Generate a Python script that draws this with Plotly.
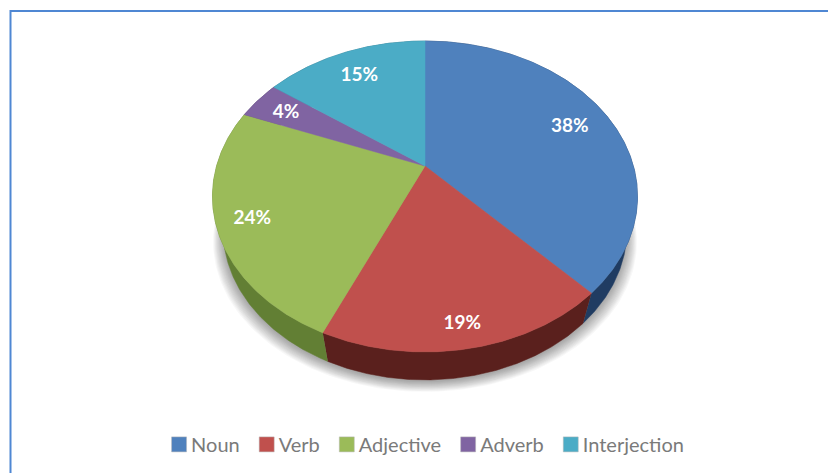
import numpy as np
import plotly.graph_objects as go

# ---- data ----
categories = ["Noun", "Verb", "Adjective", "Adverb", "Interjection"]
shares = [38.0, 18.6, 24.4, 4.0, 15.0]

# ---- styles ----
top_colors = ["#4f81bd", "#c0504d", "#9bbb59", "#8064a2", "#4bacc6"]
wall_colors = ["#203c62", "#5a201d", "#627f34", "#453560", "#28687a"]
label_radius = [0.79, 0.88, 0.84, 0.82, 0.79]
W, H = 828, 473

# Perspective view of a circular disc: top face and bottom face
K = 0.196
TOP = dict(cx=425.0, cy=166.0, a=208.4, b=149.5)
BOT = dict(cx=425.0, cy=200.6, a=198.0, b=144.2)


def project(deg, r, view):
    t = np.radians(deg)
    d = 1 + K * r * np.cos(t)
    return view["cx"] + view["a"] * r * np.sin(t) / d, view["cy"] - view["b"] * r * np.cos(t) / d


edges = 3.6 * np.concatenate([[0], np.cumsum(shares)])
fig = go.Figure()

# soft shadow under the disc
ts = np.linspace(0, 360, 241)
for i in range(12):
    x, y = project(ts, 1, BOT)
    fig.add_trace(go.Scatter(
        x=425 + (x - 425) * (1 + (11 - i) * 0.0045),
        y=y + 2 + (11 - i) * 0.9,
        mode="lines", fill="toself", line=dict(width=0),
        fillcolor="rgba(0,0,0,0.03)", hoverinfo="skip", showlegend=False))

# side wall
for name, c, a0, a1 in zip(categories, wall_colors, edges[:-1], edges[1:]):
    t = np.linspace(a0, a1, max(int(a1 - a0) * 2, 4))
    xt, yt = project(t, 1, TOP)
    xb, yb = project(t, 1, BOT)
    fig.add_trace(go.Scatter(
        x=np.concatenate([xt, xb[::-1]]), y=np.concatenate([yt, yb[::-1]]),
        mode="lines", fill="toself", line=dict(width=0.5, color=c), fillcolor=c,
        name=name, hoverinfo="skip", showlegend=False))

# top face
for name, c, v, a0, a1 in zip(categories, top_colors, shares, edges[:-1], edges[1:]):
    t = np.linspace(a0, a1, max(int(a1 - a0) * 2, 4))
    xt, yt = project(t, 1, TOP)
    fig.add_trace(go.Scatter(
        x=np.concatenate([[TOP["cx"]], xt, [TOP["cx"]]]),
        y=np.concatenate([[TOP["cy"]], yt, [TOP["cy"]]]),
        mode="lines", fill="toself", line=dict(width=0.5, color=c), fillcolor=c,
        name=name, text=f"{name}: {v:.0f}%", hoverinfo="text", showlegend=False))

# slice labels
mid = (edges[:-1] + edges[1:]) / 2
lx, ly = zip(*[project(m, r, TOP) for m, r in zip(mid, label_radius)])
fig.add_trace(go.Scatter(
    x=lx, y=np.array(ly) + 2.5, mode="text", text=[f"{v:.0f}%" for v in shares],
    textposition="middle center",
    textfont=dict(family="Lato", size=19, color="white", weight="bold"),
    hoverinfo="skip", showlegend=False))

# legend entries
for name, c in zip(categories, top_colors):
    fig.add_trace(go.Scatter(
        x=[None], y=[None], mode="markers", name=name,
        marker=dict(symbol="square", size=15, color=c, line=dict(width=0.5, color="#b8b8b8"))))

fig.update_layout(
    width=W, height=H, margin=dict(l=0, r=0, t=0, b=0),
    paper_bgcolor="white", plot_bgcolor="white",
    xaxis=dict(range=[0, W], visible=False, fixedrange=True),
    yaxis=dict(range=[H, 0], visible=False, fixedrange=True),
    legend=dict(orientation="h", x=0.517, xanchor="center", y=0.0605, yanchor="middle",
                font=dict(family="Lato", size=20, color="#7a7a7a"),
                itemsizing="trace", itemwidth=30, traceorder="normal",
                bgcolor="rgba(0,0,0,0)"),
    showlegend=True,
    shapes=[
        dict(type="line", xref="paper", yref="paper", x0=10.5 / W, x1=1, y0=1 - 11 / H, y1=1 - 11 / H,
             line=dict(color="#4f87d3", width=2)),
        dict(type="line", xref="paper", yref="paper", x0=10.5 / W, x1=10.5 / W, y0=0, y1=1 - 10 / H,
             line=dict(color="#4f87d3", width=2)),
    ],
)

# page without body margin; legend labels pulled closer to their swatches
post = """
document.body.style.margin = '0';
document.body.style.overflow = 'hidden';
document.querySelectorAll('.legend .traces').forEach(function (g, i) {
  var m = /translate\\(([-\\d.]+)[ ,]+([-\\d.]+)\\)/.exec(g.getAttribute('transform'));
  if (m) g.setAttribute('transform', 'translate(' + (parseFloat(m[1]) + 12 - 6 * i) + ',' + m[2] + ')');
  var t = g.querySelector('.legendtext');
  if (t) t.setAttribute('x', parseFloat(t.getAttribute('x')) - 8);
});
"""
fig.write_html("out.html", config=dict(displayModeBar=False), post_script=post)
